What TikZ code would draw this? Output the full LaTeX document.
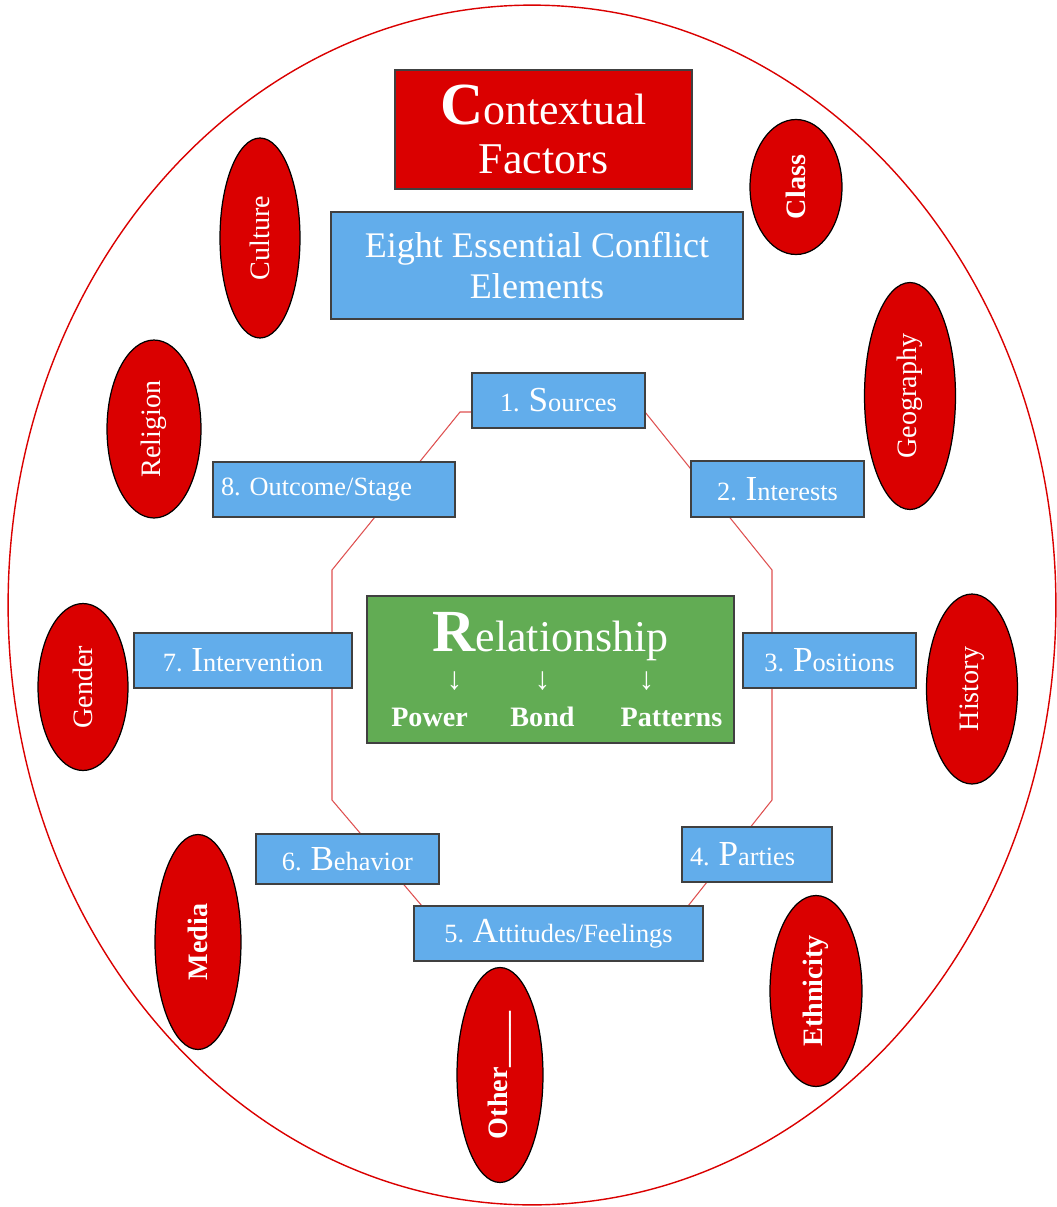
\documentclass[tikz,border=0pt]{standalone}
\usepackage{fontspec}
\setmainfont{Liberation Serif}
\usepackage{xcolor}
\usepackage{tikz}
\usetikzlibrary{shapes.geometric,backgrounds}
\definecolor{ctxred}{RGB}{218,0,0}
\definecolor{elemblue}{RGB}{98,173,235}
\definecolor{relgreen}{RGB}{98,172,84}
\definecolor{linkred}{RGB}{222,80,80}
\newcommand{\firstcap}[2]{{\fontsize{#1}{#1}\selectfont #2}}

\begin{document}
\begin{tikzpicture}[x=0.02cm,y=-0.02cm,
  factor/.style={ellipse,draw=black,line width=0.7pt,fill=ctxred,text=white,inner sep=0pt,font=\fontsize{16}{16}\selectfont},
  element/.style={rectangle,draw=black!75,line width=0.8pt,fill=elemblue,text=white,inner sep=0pt,minimum height=1.1cm,font=\fontsize{15}{16}\selectfont},
  elementleft/.style={element,align=flush left,inner xsep=0.16cm},
  link/.style={linkred,line width=0.6pt}]
\useasboundingbox (0,0) rectangle (1057,1207);
% Outer circle
\draw[ctxred,line width=0.8pt] (532,605) ellipse [x radius=10.48cm, y radius=12cm];

% Titles
\node[rectangle,draw=black!75,line width=0.8pt,fill=ctxred,text=white,inner sep=0pt,minimum width=5.94cm,minimum height=2.38cm,align=center,font=\fontsize{25}{28}\selectfont] (ctx) at (543.5,129.5) {\firstcap{34}{\bfseries C}ontextual\\Factors};
\node[element,minimum width=8.24cm,minimum height=2.14cm,align=center,font=\fontsize{20.5}{23.5}\selectfont] (eight) at (537,265.5) {Eight Essential Conflict\\Elements};

% Eight elements
\node[element,minimum width=3.46cm] (src) at (558.5,400.5) {1. \firstcap{20}{S}ources};
\node[element,minimum width=3.46cm,minimum height=1.12cm] (int) at (777.5,489) {2. \firstcap{20}{I}nterests};
\node[element,minimum width=3.46cm] (pos) at (829.5,660.5) {3. \firstcap{20}{P}ositions};
\node[elementleft,text width=2.68cm] (par) at (757,854.5) {4. \firstcap{20}{P}arties};
\node[element,minimum width=5.78cm] (att) at (558.5,933.5) {5. \firstcap{20}{A}ttitudes/Feelings};
\node[element,minimum width=3.66cm,minimum height=1cm] (beh) at (347.5,859) {6. \firstcap{20}{B}ehavior};
\node[element,minimum width=4.36cm] (itv) at (243,660.5) {7. \firstcap{20}{I}ntervention};
\node[elementleft,text width=4.52cm] (out) at (334,489.5) {8. Outcome/Stage};

% Relationship in the middle
\node[rectangle,draw=black!75,line width=0.8pt,fill=relgreen,text=white,inner sep=0pt,minimum width=7.34cm,minimum height=2.94cm,align=center,font=\fontsize{25}{22}\selectfont] (rel) at (550.5,669.5)
  {\firstcap{34}{\bfseries R}elationship\\
   {\fontsize{18}{18}\selectfont\makebox[0pt]{↓}\hspace{1.76cm}\makebox[0pt]{↓}\hspace{2.08cm}\makebox[0pt]{↓}}\\[-1pt]
   {\fontsize{16}{16}\selectfont\bfseries\makebox[0pt]{Power}\hspace{2.26cm}\makebox[0pt]{Bond}\hspace{2.58cm}\makebox[0pt]{Patterns}\hspace{0.26cm}}};

% Contextual factors
\node[factor,minimum width=1.6cm,minimum height=4cm] (cul) at (260,238) {\rotatebox{90}{Culture}};
\node[factor,minimum width=1.84cm,minimum height=2.7cm] (cls) at (796,187) {\rotatebox{90}{\bfseries Class}};
\node[factor,minimum width=1.88cm,minimum height=3.56cm] (rlg) at (154,429) {\rotatebox{90}{Religion}};
\node[factor,minimum width=1.82cm,minimum height=4.54cm] (geo) at (910,396) {\rotatebox{90}{Geography}};
\node[factor,minimum width=1.8cm,minimum height=3.34cm] (gen) at (83,687) {\rotatebox{90}{Gender}};
\node[factor,minimum width=1.82cm,minimum height=3.8cm] (his) at (972,689) {\rotatebox{90}{History}};
\node[factor,minimum width=1.72cm,minimum height=4.3cm] (med) at (198,942) {\rotatebox{90}{\bfseries Media}};
\node[factor,minimum width=1.72cm,minimum height=4.3cm] (oth) at (500,1075) {\rotatebox{90}{\bfseries Other\_\_\_\_}};
\node[factor,minimum width=1.84cm,minimum height=3.82cm] (eth) at (816,991) {\rotatebox{90}{\bfseries Ethnicity}};

% Ring linking the elements
\coordinate (k1) at (460,412);
\coordinate (k2) at (332,570);
\coordinate (k3) at (332,800);
\coordinate (k4) at (422,906);
\coordinate (k5) at (688,906);
\coordinate (k6) at (772,800);
\coordinate (k7) at (772,570);
\coordinate (k8) at (645,412);
\begin{scope}[on background layer]
\draw[link] (k1) -- (k2) -- (k3) -- (k4) -- (k5) -- (k6) -- (k7) -- (k8) -- cycle;
\end{scope}
\end{tikzpicture}
\end{document}
